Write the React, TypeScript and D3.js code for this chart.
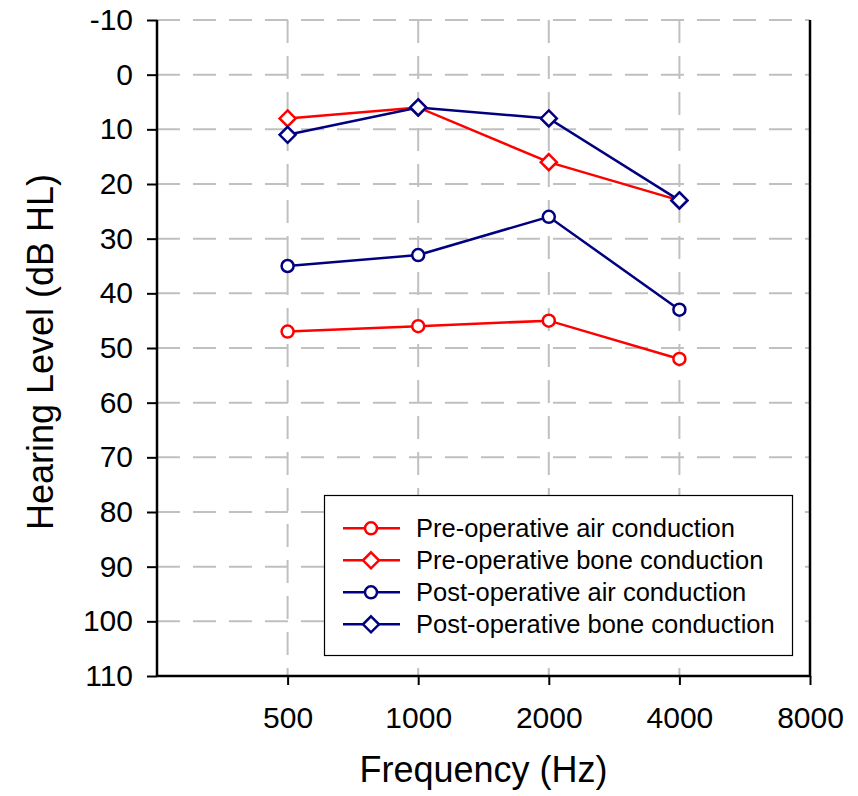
import { useRef, useEffect } from "react";
import * as d3 from "d3";

const freqs = [500, 1000, 2000, 4000];
const xTicks = [500, 1000, 2000, 4000, 8000];
const yTicks = [-10, 0, 10, 20, 30, 40, 50, 60, 70, 80, 90, 100, 110];

const preAir = [47, 46, 45, 52];
const preBone = [8, 6, 16, 23];
const postAir = [35, 33, 26, 43];
const postBone = [11, 6, 8, 23];

const seriesNames = [
  "Pre-operative air conduction",
  "Pre-operative bone conduction",
  "Post-operative air conduction",
  "Post-operative bone conduction",
];

type Series = { name: string; values: number[]; color: string; marker: "circle" | "diamond" };

const W = 858, H = 796;

export default function App() {
  const ref = useRef<SVGSVGElement | null>(null);

  useEffect(() => {
    if (!ref.current) return;
    const svg = d3.select(ref.current);
    svg.selectAll("*").remove();

    const font = "'Liberation Sans', Arial, sans-serif";
    const left = 157, right = 810, top = 20, bottom = 676;

    const x = d3.scaleLog().base(2).domain([250, 8000]).range([left, right]);
    const y = d3.scaleLinear().domain([-10, 110]).range([top, bottom]);

    const series: Series[] = [
      { name: seriesNames[0], values: preAir, color: "#ff0000", marker: "circle" },
      { name: seriesNames[1], values: preBone, color: "#ff0000", marker: "diamond" },
      { name: seriesNames[2], values: postAir, color: "#000080", marker: "circle" },
      { name: seriesNames[3], values: postBone, color: "#000080", marker: "diamond" },
    ];

    // grid
    const grid = svg.append("g");
    yTicks.filter(t => t < 110).forEach(t => {
      grid.append("line").attr("x1", left).attr("x2", right).attr("y1", y(t)).attr("y2", y(t))
        .attr("stroke", "#c0c0c0").attr("stroke-width", 2).attr("stroke-dasharray", "23,13");
    });
    xTicks.filter(t => t < 8000).forEach(t => {
      grid.append("line").attr("x1", x(t)).attr("x2", x(t)).attr("y1", top).attr("y2", bottom)
        .attr("stroke", "#c0c0c0").attr("stroke-width", 2).attr("stroke-dasharray", "23,13");
    });

    // axes
    const yAxis = d3.axisLeft(y).tickValues(yTicks).tickSize(10).tickPadding(14).tickFormat(d => String(d));
    const gy = svg.append("g").attr("transform", `translate(${left},0)`).call(yAxis);
    const xAxis = d3.axisBottom(x).tickValues(xTicks).tickSize(9).tickPadding(22).tickFormat(d => String(d));
    const gx = svg.append("g").attr("transform", `translate(0,${bottom})`).call(xAxis);
    [gx, gy].forEach(g => {
      g.select(".domain").remove();
      g.selectAll("line").attr("stroke", "#000").attr("stroke-width", 2);
      g.selectAll("text").attr("font-family", font).attr("font-size", 30).attr("fill", "#000");
    });
    svg.append("line").attr("x1", left).attr("x2", left).attr("y1", top).attr("y2", bottom + 1)
      .attr("stroke", "#000").attr("stroke-width", 2.5);
    svg.append("line").attr("x1", left).attr("x2", right).attr("y1", bottom).attr("y2", bottom)
      .attr("stroke", "#000").attr("stroke-width", 2.5);
    svg.append("line").attr("x1", right).attr("x2", right).attr("y1", top).attr("y2", bottom + 1)
      .attr("stroke", "#000").attr("stroke-width", 2.5);

    const circle = d3.symbol().type(d3.symbolCircle).size(Math.PI * 36);
    const diamond = "M0,-8L8,0L0,8L-8,0Z";
    const drawMarker = (g: d3.Selection<SVGGElement, unknown, null, undefined>, s: Series, cx: number, cy: number) => {
      g.append("path")
        .attr("d", s.marker === "circle" ? (circle() as string) : diamond)
        .attr("transform", `translate(${cx},${cy})`)
        .attr("fill", "#fff").attr("stroke", s.color).attr("stroke-width", 2.5);
    };

    // lines
    const line = d3.line<number>().x((_, i) => x(freqs[i])).y(d => y(d));
    series.forEach(s => {
      svg.append("path").datum(s.values).attr("d", line).attr("fill", "none")
        .attr("stroke", s.color).attr("stroke-width", 2.5);
    });
    series.forEach(s => {
      const g = svg.append("g");
      s.values.forEach((v, i) => drawMarker(g, s, x(freqs[i]), y(v)));
    });

    // legend
    const lg = svg.append("g");
    lg.append("rect").attr("x", 324.5).attr("y", 495.5).attr("width", 468).attr("height", 160)
      .attr("fill", "#fff").attr("stroke", "#000").attr("stroke-width", 1.2);
    series.forEach((s, i) => {
      const ly = 528.3 + i * 32;
      lg.append("line").attr("x1", 343).attr("x2", 400).attr("y1", ly).attr("y2", ly)
        .attr("stroke", s.color).attr("stroke-width", 2.5);
      drawMarker(lg, s, 371, ly);
      lg.append("text").attr("x", 416).attr("y", ly + 8.5).text(s.name)
        .attr("font-family", font).attr("font-size", 25.5).attr("fill", "#000");
    });

    // titles
    svg.append("text").attr("x", (left + right) / 2).attr("y", 782).attr("text-anchor", "middle")
      .attr("font-family", font).attr("font-size", 36).text("Frequency (Hz)");
    svg.append("text").attr("transform", `translate(53,352) rotate(-90)`)
      .attr("text-anchor", "middle").attr("font-family", font).attr("font-size", 36)
      .text("Hearing Level (dB HL)");
  }, []);

  return (
    <svg ref={ref} width={W} height={H}
      style={{ position: "absolute", left: 0, top: 0, background: "#fff" }} />
  );
}
